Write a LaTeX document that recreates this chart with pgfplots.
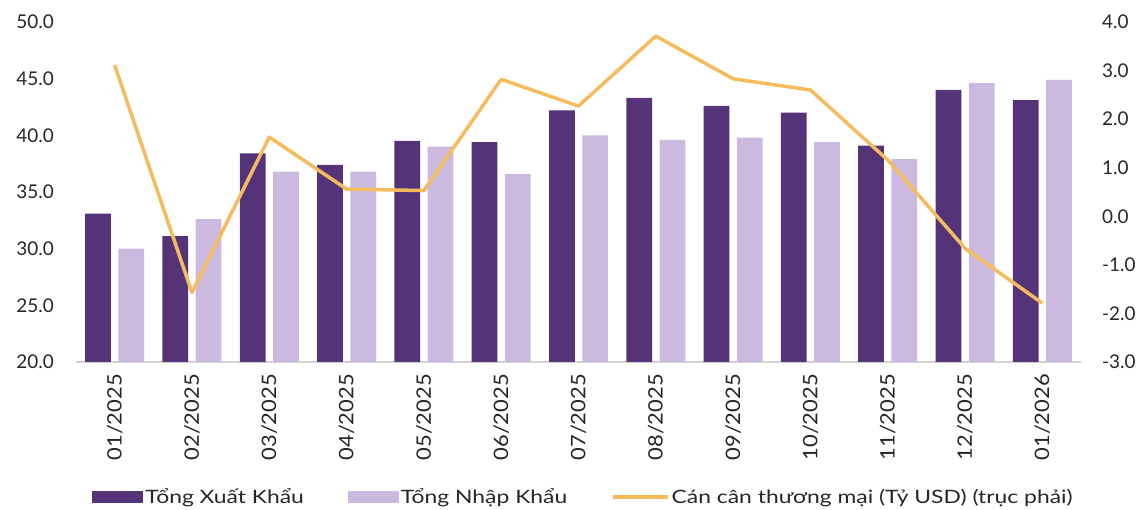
\documentclass[border=0pt]{standalone}
\usepackage{pgfplots}
\pgfplotsset{compat=1.18}
\usepackage{fontspec}
\setmainfont{Lato}
\newfontfamily\legfont[FakeStretch=1.24]{Lato}
\newfontfamily\xfont[FakeStretch=1.1]{Lato}
\definecolor{darkp}{HTML}{543378}
\definecolor{lightp}{HTML}{CBB9E0}
\definecolor{lineo}{HTML}{F4BC5C}
\pgfplotstableread{
x exp imp bal
0 33.1 30.0 3.11
1 31.1 32.6 -1.57
2 38.4 36.8 1.63
3 37.4 36.8 0.56
4 39.5 39.0 0.53
5 39.4 36.6 2.82
6 42.2 40.0 2.27
7 43.3 39.6 3.71
8 42.6 39.8 2.83
9 42.0 39.4 2.60
10 39.1 37.9 1.16
11 44.0 44.6 -0.66
12 43.1 44.9 -1.79
}\data
\begin{document}
\begin{tikzpicture}
\useasboundingbox (0,0) rectangle (1143bp,510bp);
\begin{axis}[
  at={(76bp,148bp)}, anchor=south west,
  scale only axis, width=1005bp, height=340bp,
  xmin=-0.5, xmax=12.5, ymin=20, ymax=50,
  ytick={20,25,...,50},
  xtick={0,...,12},
  xticklabels={01/2025,02/2025,03/2025,04/2025,05/2025,06/2025,07/2025,08/2025,09/2025,10/2025,11/2025,12/2025,01/2026},
  axis x line*=bottom, axis y line*=left,
  x axis line style={draw=gray!35, line width=1.2bp},
  y axis line style={draw=none},
  major tick length=0,
  tick style={draw=none},
  /pgf/number format/assume math mode=true,
  /pgf/number format/.cd, fixed, fixed zerofill, precision=1, /pgfplots/.cd,
  ticklabel style={font=\fontsize{19}{22}\selectfont, text=black!85},
  yticklabel style={inner sep=0pt},
  yticklabel shift=22bp,
  xticklabel style={rotate=90, anchor=east, inner sep=0pt, font=\xfont\fontsize{20}{22}\selectfont},
  xticklabel shift=12bp,
  ybar, bar width=0.333,
  legend style={at={(0.505,-0.397)}, anchor=center, draw=none, fill=none,
    font=\legfont\fontsize{18.5}{21}\selectfont, text=black!85,
    /tikz/every even column/.append style={column sep=42bp},
    inner sep=0pt, cells={anchor=west}},
  legend columns=3,
]
\addplot[fill=darkp, draw=none, bar shift=-0.215,
  area legend, legend image code/.code={\fill[darkp] (0bp,-6bp) rectangle (51bp,6bp);}]
  table[x=x,y=exp]{\data};
\addlegendentry{Tổng Xuất Khẩu}
\addplot[fill=lightp, draw=none, bar shift=0.215,
  area legend, legend image code/.code={\fill[lightp] (0bp,-6bp) rectangle (51bp,6bp);}]
  table[x=x,y=imp]{\data};
\addlegendentry{Tổng Nhập Khẩu}
\addlegendimage{legend image code/.code={\draw[lineo, line width=3.5bp] (0bp,0bp) -- (55bp,0bp);}}
\addlegendentry{Cán cân thương mại (Tỷ USD) (trục phải)}
\end{axis}
\begin{axis}[
  at={(76bp,148bp)}, anchor=south west,
  scale only axis, width=1005bp, height=340bp,
  xmin=-0.5, xmax=12.5, ymin=-3, ymax=4,
  ytick={-3,-2,...,4},
  axis x line=none, axis y line*=right,
  y axis line style={draw=none},
  major tick length=0, tick style={draw=none},
  /pgf/number format/assume math mode=true,
  /pgf/number format/.cd, fixed, fixed zerofill, precision=1, /pgfplots/.cd,
  ticklabel style={font=\fontsize{19}{22}\selectfont, text=black!85},
  yticklabel style={inner sep=0pt},
  yticklabel shift=21bp,
]
\addplot[lineo, line width=3.5bp, line join=round, mark=none] table[x=x,y=bal]{\data};
\end{axis}
\end{tikzpicture}
\end{document}
